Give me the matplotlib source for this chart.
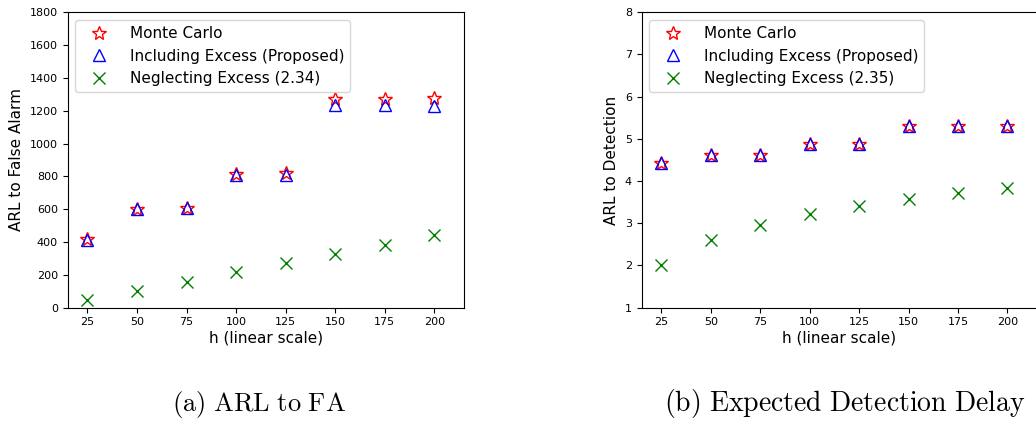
import numpy as np
import matplotlib
matplotlib.use('Agg')
import matplotlib.pyplot as plt

plt.rcParams['mathtext.fontset'] = 'cm'

h = [25, 50, 75, 100, 125, 150, 175, 200]

# ARL to false alarm
arl_fa_mc = [420, 601, 609, 813, 819, 1272, 1270, 1280]
arl_fa_incl = [415, 600, 610, 810, 810, 1233, 1233, 1229]
arl_fa_negl = [47, 102, 158, 215, 272, 329, 384, 443]

# ARL to detection
arl_dd_mc = [4.42, 4.63, 4.63, 4.87, 4.87, 5.30, 5.31, 5.30]
arl_dd_incl = [4.42, 4.63, 4.63, 4.87, 4.87, 5.31, 5.31, 5.31]
arl_dd_negl = [2.00, 2.60, 2.96, 3.22, 3.42, 3.58, 3.72, 3.84]

fig = plt.figure(figsize=(10.36, 4.24), dpi=100)
ax1 = fig.add_axes([0.0653, 0.2743, 0.3825, 0.6967])
ax2 = fig.add_axes([0.6194, 0.2743, 0.3816, 0.6967])


def draw(ax, mc, incl, negl, ref, ylabel):
    ax.plot(h, mc, linestyle='none', marker='*', markersize=10,
            mfc='none', mec='red', mew=1.0, label='Monte Carlo')
    ax.plot(h, incl, linestyle='none', marker='^', markersize=9,
            mfc='none', mec='blue', mew=1.0,
            label='Including Excess (Proposed)')
    ax.plot(h, negl, linestyle='none', marker='x', markersize=9,
            color='green', mew=1.0, label=f'Neglecting Excess ({ref})')
    ax.set_xlim(15, 215)
    ax.set_xticks(h)
    ax.tick_params(labelsize=8)
    ax.set_xlabel('h (linear scale)', fontsize=11, labelpad=2)
    ax.set_ylabel(ylabel, fontsize=11)
    ax.legend(loc='upper left', fontsize=11, handlelength=2.35)


draw(ax1, arl_fa_mc, arl_fa_incl, arl_fa_negl, '2.34', 'ARL to False Alarm')
ax1.set_ylim(0, 1800)
ax1.set_yticks(np.arange(0, 1801, 200))

draw(ax2, arl_dd_mc, arl_dd_incl, arl_dd_negl, '2.35', 'ARL to Detection')
ax2.set_ylim(1, 8)
ax2.set_yticks(np.arange(1, 9, 1))

fig.text(0.25, 0.031, r'$\mathrm{(a)\ ARL\ to\ FA}$', fontsize=19,
         ha='center', va='baseline')
fig.text(0.815, 0.031, r'$\mathrm{(b)\ Expected\ Detection\ Delay}$',
         fontsize=20, ha='center', va='baseline')

fig.savefig('out.png', dpi=100)
